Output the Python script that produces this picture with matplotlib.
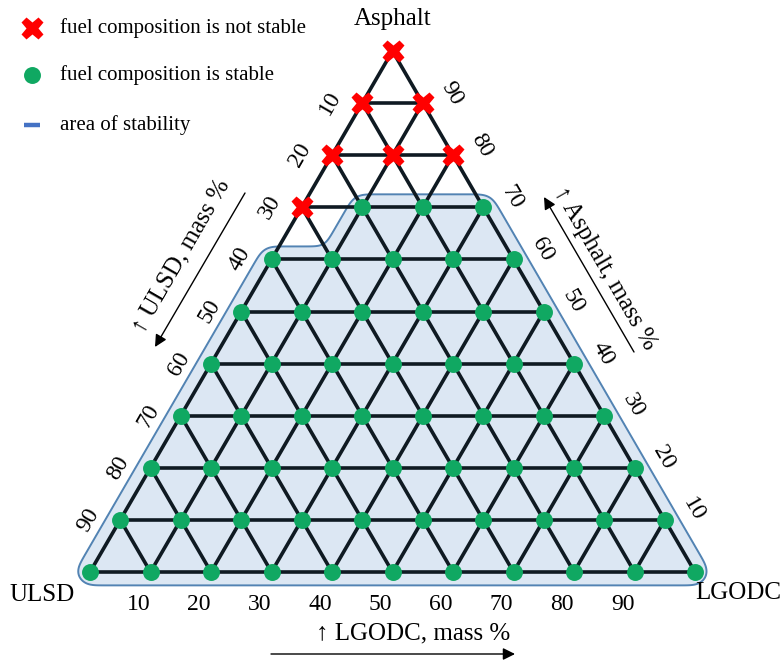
import numpy as np
import matplotlib
matplotlib.use("Agg")
import matplotlib.pyplot as plt

plt.rcParams['font.family'] = ['Liberation Serif', 'DejaVu Serif']

# ---------------- data ----------------
grid_levels = [0, 10, 20, 30, 40, 50, 60, 70, 80, 90, 100]
tick_values = [10, 20, 30, 40, 50, 60, 70, 80, 90]

# unstable compositions (Asphalt %, LGODC %)
unstable_asphalt = [100, 90, 90, 80, 80, 80, 70]
unstable_lgodc = [0, 0, 10, 0, 10, 20, 0]

# stable compositions: Asphalt level -> LGODC values
stable_rows = {
    70: [10, 20, 30],
    60: [0, 10, 20, 30, 40],
    50: [0, 10, 20, 30, 40, 50],
    40: [0, 10, 20, 30, 40, 50, 60],
    30: [0, 10, 20, 30, 40, 50, 60, 70],
    20: [0, 10, 20, 30, 40, 50, 60, 70, 80],
    10: [0, 10, 20, 30, 40, 50, 60, 70, 80, 90],
    0: [0, 10, 20, 30, 40, 50, 60, 70, 80, 90, 100],
}
stable_asphalt = [a for a, ls in stable_rows.items() for _ in ls]
stable_lgodc = [l for a, ls in stable_rows.items() for l in ls]

legend_labels = ["fuel composition is not stable", "fuel composition is stable", "area of stability"]
corner_labels = ["Asphalt", "ULSD", "LGODC"]
axis_titles = ["\u2191 ULSD, mass %", "\u2191 Asphalt, mass %", "\u2191 LGODC, mass %"]

# ---------------- layout ----------------
W, H = 783, 660
SX, SY = 6.05, 5.21      # pixels per % unit
OX, OY = 90, 572         # pixel of the ULSD vertex

fig = plt.figure(figsize=(W / 100, H / 100), dpi=100)
ax = fig.add_axes([0, 0, 1, 1])
ax.set_xlim(-OX / SX, (W - OX) / SX)
ax.set_ylim(-(H - OY) / SY, OY / SY)
ax.axis('off')


def xy(a, l):
    a = np.asarray(a, dtype=float)
    l = np.asarray(l, dtype=float)
    return l + a / 2.0, a


def P(px, py):
    """pixel (from top-left) -> data coords (layout only)"""
    return (px - OX) / SX, (OY - py) / SY


GREEN = '#10a862'
RED = '#ff0000'
LINE = '#0f1a22'
FILL = '#dce7f3'
EDGE = '#5283b3'

# ---------------- area of stability ----------------
step = grid_levels[1] - grid_levels[0]
stable_set = set(zip(stable_asphalt, stable_lgodc))
tris = []
for a in grid_levels[:-1]:
    for l in grid_levels:
        up = [(a, l), (a, l + step), (a + step, l)]
        dn = [(a, l + step), (a + step, l), (a + step, l + step)]
        for t in (up, dn):
            if all(p in stable_set for p in t):
                tris.append(t)

res = 1.2
gx = np.arange(-20, 720, res)
gy = np.arange(-20, 520, res)
GX, GY = np.meshgrid(gx, gy)  # pixel-scaled space (x right, y up)


def seg_dist(px, py, x1, y1, x2, y2):
    dx, dy = x2 - x1, y2 - y1
    t = ((px - x1) * dx + (py - y1) * dy) / (dx * dx + dy * dy)
    t = np.clip(t, 0, 1)
    return np.hypot(px - (x1 + t * dx), py - (y1 + t * dy))


dist = np.full(GX.shape, np.inf)
for t in tris:
    pts = []
    for (a, l) in t:
        X, Y = xy(a, l)
        pts.append((float(X) * SX, float(Y) * SY))
    (x1, y1), (x2, y2), (x3, y3) = pts
    d = np.minimum(np.minimum(seg_dist(GX, GY, x1, y1, x2, y2),
                              seg_dist(GX, GY, x2, y2, x3, y3)),
                   seg_dist(GX, GY, x3, y3, x1, y1))
    s1 = (GX - x2) * (y1 - y2) - (x1 - x2) * (GY - y2)
    s2 = (GX - x3) * (y2 - y3) - (x2 - x3) * (GY - y3)
    s3 = (GX - x1) * (y3 - y1) - (x3 - x1) * (GY - y1)
    inside = ((s1 >= 0) & (s2 >= 0) & (s3 >= 0)) | ((s1 <= 0) & (s2 <= 0) & (s3 <= 0))
    d[inside] = 0
    dist = np.minimum(dist, d)

# smooth the field to round the concave step
sig = 6.0 / res
k = np.arange(-int(3 * sig), int(3 * sig) + 1)
kern = np.exp(-0.5 * (k / sig) ** 2)
kern /= kern.sum()
pad = len(k) // 2


def blur1d(v):
    vp = np.pad(v, pad, mode='edge')
    return np.convolve(vp, kern, mode='valid')


dist = np.apply_along_axis(blur1d, 1, dist)
dist = np.apply_along_axis(blur1d, 0, dist)

R = 13.0
XD, YD = GX / SX, GY / SY
ax.contourf(XD, YD, dist, levels=[-1, R], colors=[FILL], zorder=1)
ax.contour(XD, YD, dist, levels=[R], colors=[EDGE], linewidths=1.4, zorder=2)

# ---------------- grid ----------------
glw = 2.6
for v in grid_levels:
    if v < 100:
        # constant Asphalt
        x, y = xy([v, v], [0, 100 - v])
        ax.plot(x, y, color=LINE, lw=glw, zorder=3, solid_capstyle='round')
        # constant LGODC
        x, y = xy([0, 100 - v], [v, v])
        ax.plot(x, y, color=LINE, lw=glw, zorder=3, solid_capstyle='round')
        # constant ULSD
        x, y = xy([0, 100 - v], [100 - v, 0])
        ax.plot(x, y, color=LINE, lw=glw, zorder=3, solid_capstyle='round')

# ---------------- points ----------------
x, y = xy(stable_asphalt, stable_lgodc)
ax.plot(x, y, 'o', ms=12.2, color=GREEN, mec='none', zorder=5)
x, y = xy(unstable_asphalt, unstable_lgodc)
ax.plot(x, y, 'X', ms=16, color=RED, mec='none', zorder=5)

# ---------------- tick labels ----------------
FS = 17
for v in tick_values:
    # left edge: ULSD
    x, y = xy(100 - v, 0)
    ax.annotate(str(v), (x, y), xytext=(-32, 0), textcoords='offset pixels',
                rotation=60, ha='center', va='center', fontsize=FS, rotation_mode='anchor')
    # right edge: Asphalt
    x, y = xy(v, 100 - v)
    ax.annotate(str(v), (x, y), xytext=(29, 10), textcoords='offset pixels',
                rotation=-60, ha='center', va='center', fontsize=FS, rotation_mode='anchor')
    # bottom edge: LGODC
    x, y = xy(0, v)
    ax.annotate(str(v), (x, y), xytext=(-12, -32), textcoords='offset pixels',
                ha='center', va='center', fontsize=FS)

# ---------------- corner labels ----------------
CF = 18
ax.annotate(corner_labels[0], xy(100, 0), xytext=(0, 32), textcoords='offset pixels',
            ha='center', va='center', fontsize=CF)
ax.annotate(corner_labels[1], xy(0, 0), xytext=(-48, -23), textcoords='offset pixels',
            ha='center', va='center', fontsize=CF)
ax.annotate(corner_labels[2], xy(0, 100), xytext=(43, -21), textcoords='offset pixels',
            ha='center', va='center', fontsize=CF)

# ---------------- axis titles with arrows ----------------
ax.text(*P(181, 256), axis_titles[0], rotation=60, ha='center', va='center',
        fontsize=CF, rotation_mode='anchor')
ax.text(*P(605, 268), axis_titles[1], rotation=-60, ha='center', va='center',
        fontsize=CF, rotation_mode='anchor')
ax.text(*P(413, 633), axis_titles[2], ha='center', va='center', fontsize=CF)

aprops = dict(arrowstyle='-|>', lw=1.0, color='black', mutation_scale=18,
              shrinkA=0, shrinkB=0)
ax.annotate('', xy=P(155, 347), xytext=P(245, 193), arrowprops=aprops)
ax.annotate('', xy=P(544, 197), xytext=P(634, 352), arrowprops=aprops)
ax.annotate('', xy=P(515, 654), xytext=P(271, 654), arrowprops=aprops)

# ---------------- legend ----------------
LF = 15
ax.plot(*P(32, 28), 'X', ms=16, color=RED, mec='none', clip_on=False)
ax.plot(*P(32, 75), 'o', ms=12.2, color=GREEN, mec='none', clip_on=False)
xa, ya = P(24, 125)
xb, yb = P(40, 125)
ax.plot([xa, xb], [ya, yb], color='#4472c4', lw=3.2, solid_capstyle='butt')
for lab, py in zip(legend_labels, [28, 75, 125]):
    ax.text(*P(60, py), lab, ha='left', va='center', fontsize=LF)

fig.savefig('out.png', dpi=100)
